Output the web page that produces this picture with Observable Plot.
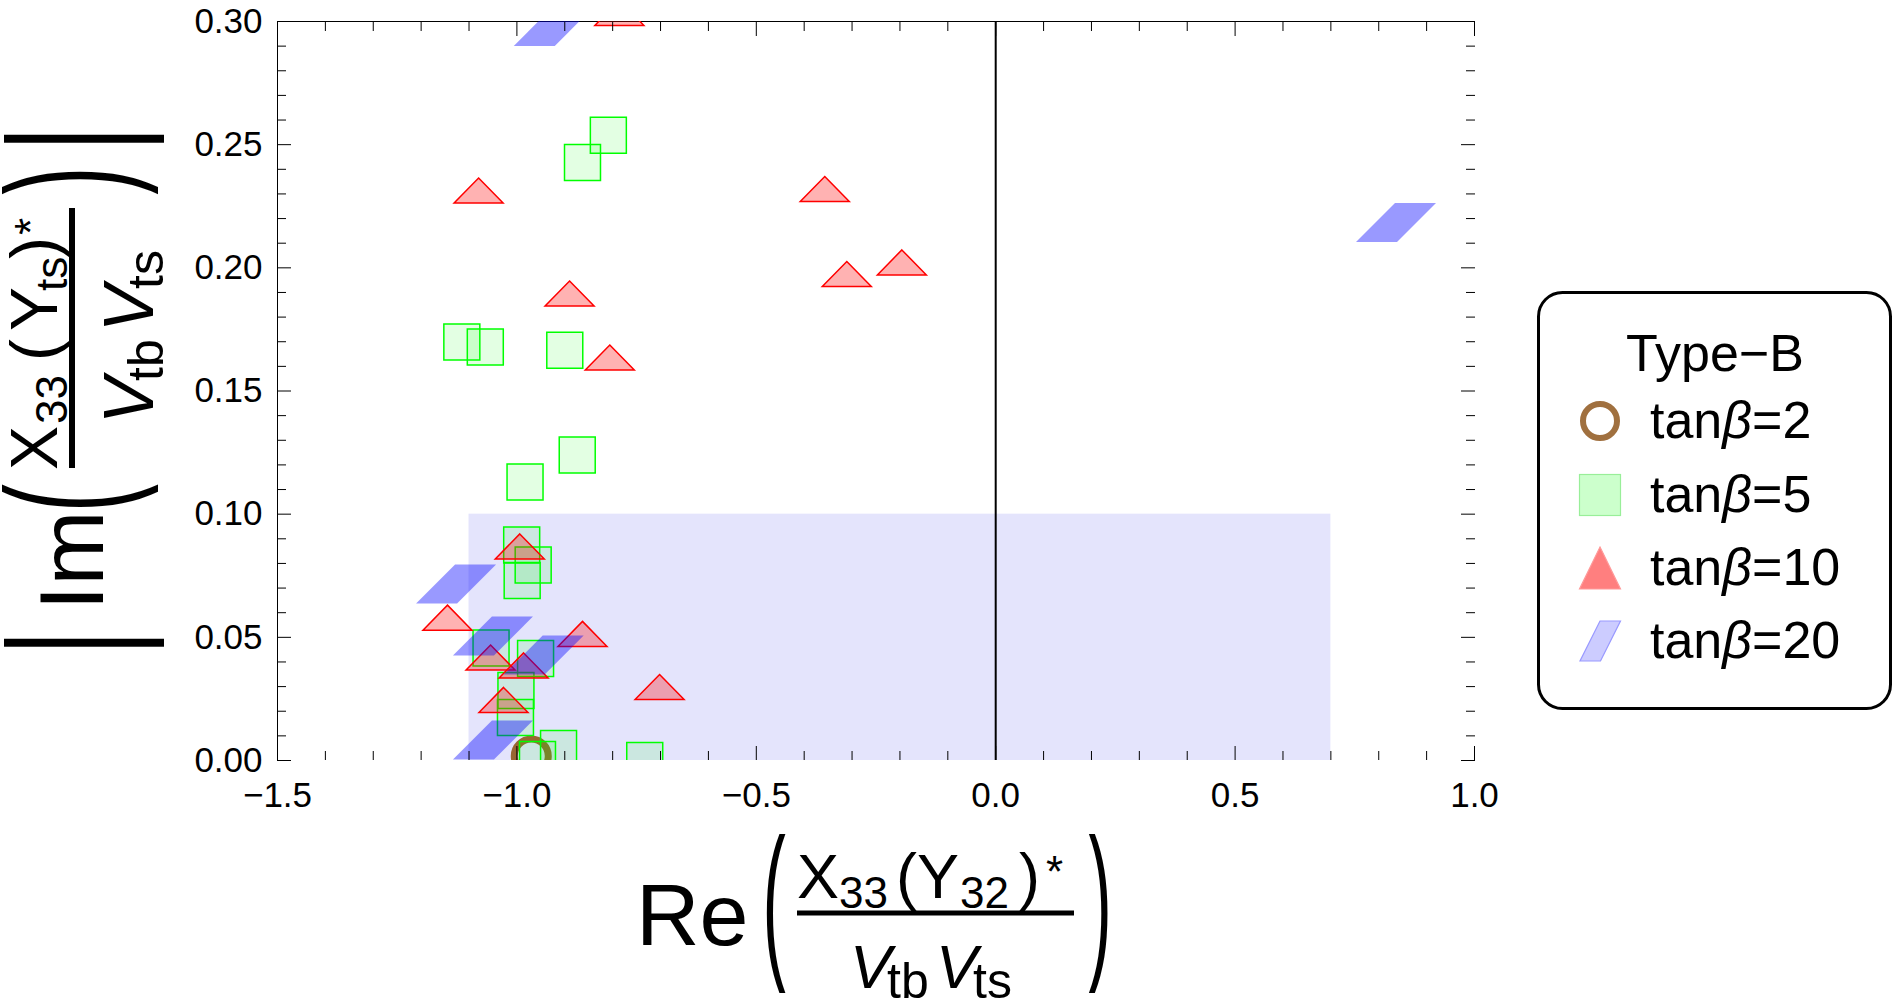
<!DOCTYPE html>
<html>
<head>
<meta charset="utf-8">
<script src="https://cdn.jsdelivr.net/npm/d3@7"></script>
<script src="https://cdn.jsdelivr.net/npm/@observablehq/plot@0.6"></script>
<style>
  html, body { margin: 0; padding: 0; background: #fff; }
  #chart { position: relative; width: 1893px; height: 1003px; overflow: hidden;
           font-family: "Liberation Sans", Arial, Helvetica, sans-serif; }
  #chart > svg { position: absolute; left: 0; top: 0; }
</style>
</head>
<body>
<div id="chart"></div>
<script>
// ---- data -----------------------------------------------------------------
const seriesNames = ["tanβ=2", "tanβ=5", "tanβ=10", "tanβ=20"];
const legendTitle = "Type−B";

// tanβ = 2
const tb2Re = [-0.970];
const tb2Im = [0.0018];

// tanβ = 5
const tb5Re = [-0.809, -0.863, -1.115, -1.066, -0.900, -0.874, -0.983, -0.990, -0.966,
               -0.989, -1.054, -0.961, -1.002, -1.003, -0.913, -0.957, -0.733];
const tb5Im = [0.2538, 0.2428, 0.1699, 0.1679, 0.1665, 0.1240, 0.1131, 0.0875, 0.0794,
               0.0731, 0.0457, 0.0414, 0.0284, 0.0175, 0.0049, 0.0004, 0.0000];

// tanβ = 10
const tb10Re = [-0.786, -1.080, -0.357, -0.311, -0.196, -0.890, -0.806, -0.994, -1.145,
                -0.863, -1.055, -0.986, -0.702, -1.028];
const tb10Im = [0.3035, 0.2314, 0.2320, 0.1975, 0.2022, 0.1896, 0.1636, 0.0869, 0.0580,
                0.0514, 0.0418, 0.0386, 0.0298, 0.0246];

// tanβ = 20
const tb20Re = [-0.923, 0.836, -1.127, -1.050, -0.944, -1.050];
const tb20Im = [0.2980, 0.2184, 0.0717, 0.0505, 0.0428, 0.0083];

// allowed band
const bandRe = [-1.1, 0.7];
const bandIm = [0.0, 0.1];

// axes
const xDomain = [-1.5, 1.0];
const yDomain = [0.0, 0.3];
const xMajor = [-1.5, -1.0, -0.5, 0.0, 0.5, 1.0];
const yMajor = [0.00, 0.05, 0.10, 0.15, 0.20, 0.25, 0.30];

// ---- helpers --------------------------------------------------------------
const pts = (re, im) => re.map((x, i) => ({x, y: im[i]}));
const near = (v, list) => list.some(m => Math.abs(m - v) < 1e-9);
const xMinor = d3.range(-15, 11).map(i => i / 10).filter(v => !near(v, xMajor));
const yMinor = d3.range(0, 31).map(i => i / 100).filter(v => !near(v, yMajor));

// flat triangle and slanted parallelogram markers (scaled by r)
const flatTriangle = {
  draw(ctx, size) {
    const k = Math.sqrt(size / Math.PI) / 20;
    ctx.moveTo(0, -12.5 * k);
    ctx.lineTo(24.5 * k, 12.5 * k);
    ctx.lineTo(-24.5 * k, 12.5 * k);
    ctx.closePath();
  }
};
const parallelogram = {
  draw(ctx, size) {
    const k = Math.sqrt(size / Math.PI) / 20;
    ctx.moveTo(-40 * k, 19.5 * k);
    ctx.lineTo(1 * k, 19.5 * k);
    ctx.lineTo(40 * k, -19.5 * k);
    ctx.lineTo(-1 * k, -19.5 * k);
    ctx.closePath();
  }
};

// inward-pointing frame ticks on all four sides (tick lines only, no text)
function frameTicks(xs, ys, len) {
  const common = {fill: "none", label: null, stroke: "black", strokeWidth: 1};
  return [
    Plot.axisX(xs, {...common, anchor: "bottom", tickSize: len, dy: -len}),
    Plot.axisX(xs, {...common, anchor: "top", tickSize: len, dy: len}),
    Plot.axisY(ys, {...common, anchor: "left", tickSize: len, dx: len}),
    Plot.axisY(ys, {...common, anchor: "right", tickSize: len, dx: -len})
  ];
}

// ---- plot -----------------------------------------------------------------
const chart = Plot.plot({
  width: 1530,
  height: 1003,
  marginLeft: 277,
  marginRight: 56,
  marginTop: 21,
  marginBottom: 243,
  x: {domain: xDomain, label: null},
  y: {domain: yDomain, label: null},
  style: {fontFamily: "'Liberation Sans', Arial, Helvetica, sans-serif", color: "black", background: "white"},
  marks: [
    Plot.rect([{x1: bandRe[0], x2: bandRe[1], y1: bandIm[0], y2: bandIm[1]}],
      {x1: "x1", x2: "x2", y1: "y1", y2: "y2", fill: "rgb(228,228,252)"}),
    Plot.ruleX([0], {stroke: "black", strokeWidth: 2}),
    Plot.ruleY([yDomain[1]], {stroke: "black", strokeWidth: 1}),
    Plot.ruleX([xDomain[0]], {stroke: "black", strokeWidth: 1}),
    Plot.dot(pts(tb2Re, tb2Im), {x: "x", y: "y", r: 17, fill: "none", stroke: "#996633", strokeWidth: 7, clip: true}),
    Plot.dot(pts(tb5Re, tb5Im), {x: "x", y: "y", symbol: "square", r: 20.3, fill: "#00ff00", fillOpacity: 0.11,
      stroke: "#00ff00", strokeWidth: 1.5, clip: true}),
    Plot.dot(pts(tb10Re, tb10Im), {x: "x", y: "y", symbol: flatTriangle, r: 20, fill: "#ff0000", fillOpacity: 0.3,
      stroke: "#ff0000", strokeWidth: 1.5, clip: true}),
    Plot.dot(pts(tb20Re, tb20Im), {x: "x", y: "y", symbol: parallelogram, r: 20, fill: "#0000ff", fillOpacity: 0.4,
      stroke: "none", clip: true}),
    ...frameTicks(xMajor, yMajor, 14),
    ...frameTicks(xMinor, yMinor, 9),
    Plot.axisX(xMajor, {anchor: "bottom", tickSize: 0, tickPadding: 22, tickFormat: d3.format(".1f"),
      fontSize: 35, label: null}),
    Plot.axisY(yMajor, {anchor: "left", tickSize: 0, tickPadding: 15, tickFormat: d3.format(".2f"),
      fontSize: 35, label: null})
  ]
});
document.getElementById("chart").append(chart);

// ---- axis labels and legend ------------------------------------------------
const overlay = d3.select("#chart").append("svg")
  .attr("width", 1893).attr("height", 1003)
  .style("pointer-events", "none")
  .attr("font-family", "'Liberation Sans', Arial, Helvetica, sans-serif")
  .attr("fill", "black");

function txt(g, s, x, y, size, italic) {
  return g.append("text").attr("x", x).attr("y", y).attr("font-size", size)
    .attr("font-style", italic ? "italic" : null).text(s);
}
// stretched delimiter glyph centred vertically on cy
function delim(g, ch, x, cy, size, stretch) {
  g.append("text")
    .attr("transform", `translate(${x},${cy}) scale(1,${stretch})`)
    .attr("y", 0.259 * size).attr("font-size", size).text(ch);
}

// horizontal label: Re( X33 (Y32)* / Vtb Vts )
const gx = overlay.append("g");
txt(gx, "Re", 636, 945, 88);
delim(gx, "(", 762.5, 914, 70, 2.45);
gx.append("line").attr("x1", 797).attr("x2", 1074).attr("y1", 913).attr("y2", 913)
  .attr("stroke", "black").attr("stroke-width", 5);
txt(gx, "X", 797, 898, 63);
txt(gx, "33", 839, 908, 44);
txt(gx, "(", 896, 898, 63);
txt(gx, "Y", 917, 898, 63);
txt(gx, "32", 960, 908, 44);
txt(gx, ")", 1019, 898, 63);
txt(gx, "*", 1046, 887, 44);
txt(gx, "V", 850, 988, 62, true);
txt(gx, "tb", 887, 998, 50);
txt(gx, "V", 936, 988, 62, true);
txt(gx, "ts", 973, 998, 50);
delim(gx, ")", 1088.5, 914, 70, 2.45);

// vertical label: |Im( X33 (Yts)* / Vtb Vts )|
const gy = overlay.append("g").attr("transform", "translate(0,643) rotate(-90)");
delim(gy, "|", -12.7, 83.5, 100, 1.7);
txt(gy, "Im", 32.5, 103, 90);
delim(gy, "(", 130.8, 80, 85, 1.96);
gy.append("line").attr("x1", 175).attr("x2", 435).attr("y1", 72).attr("y2", 72)
  .attr("stroke", "black").attr("stroke-width", 6);
txt(gy, "X", 173, 57, 66);
txt(gy, "33", 219, 67, 44);
txt(gy, "(", 282, 57, 66);
txt(gy, "Y", 312, 57, 66);
txt(gy, "ts", 352, 67, 44);
txt(gy, ")", 384, 57, 66);
txt(gy, "*", 408, 46, 44);
txt(gy, "V", 219, 153, 70, true);
txt(gy, "tb", 262, 163, 50);
txt(gy, "V", 311, 153, 70, true);
txt(gy, "ts", 354, 163, 50);
delim(gy, ")", 448.3, 80, 85, 1.96);
delim(gy, "|", 491.3, 83.5, 100, 1.7);

// legend
const lg = overlay.append("g");
lg.append("rect").attr("x", 1538.5).attr("y", 292.5).attr("width", 352).attr("height", 416)
  .attr("rx", 24).attr("fill", "white").attr("stroke", "black").attr("stroke-width", 3);
lg.append("text").attr("x", 1715).attr("y", 371).attr("text-anchor", "middle")
  .attr("font-size", 52).text(legendTitle);
const rowBase = [438, 512, 585, 658];
const swatch = [
  (g, cy) => g.append("circle").attr("cx", 1600).attr("cy", cy).attr("r", 17)
    .attr("fill", "none").attr("stroke", "#a0703f").attr("stroke-width", 6),
  (g, cy) => g.append("rect").attr("x", 1579.5).attr("y", cy - 20.5).attr("width", 41).attr("height", 41)
    .attr("fill", "#ccffcc").attr("stroke", "#99ee99").attr("stroke-width", 1.2),
  (g, cy) => g.append("path").attr("d", `M1600,${cy - 21}L1620.5,${cy + 21}L1579.5,${cy + 21}Z`)
    .attr("fill", "#ff7f7f").attr("stroke", "#ff9999").attr("stroke-width", 1.2),
  (g, cy) => g.append("path").attr("d", `M1580,${cy + 20}L1600.5,${cy + 20}L1620.5,${cy - 20}L1600,${cy - 20}Z`)
    .attr("fill", "#ccccff").attr("stroke", "#9999ff").attr("stroke-width", 1.2)
];
seriesNames.forEach((name, i) => {
  const base = rowBase[i];
  swatch[i](lg, base - 17);
  const [pre, post] = name.split("β");
  const t = lg.append("text").attr("x", 1650).attr("y", base).attr("font-size", 52);
  t.append("tspan").text(pre);
  t.append("tspan").attr("font-style", "italic").text("β");
  t.append("tspan").text(post);
});
</script>
</body>
</html>
